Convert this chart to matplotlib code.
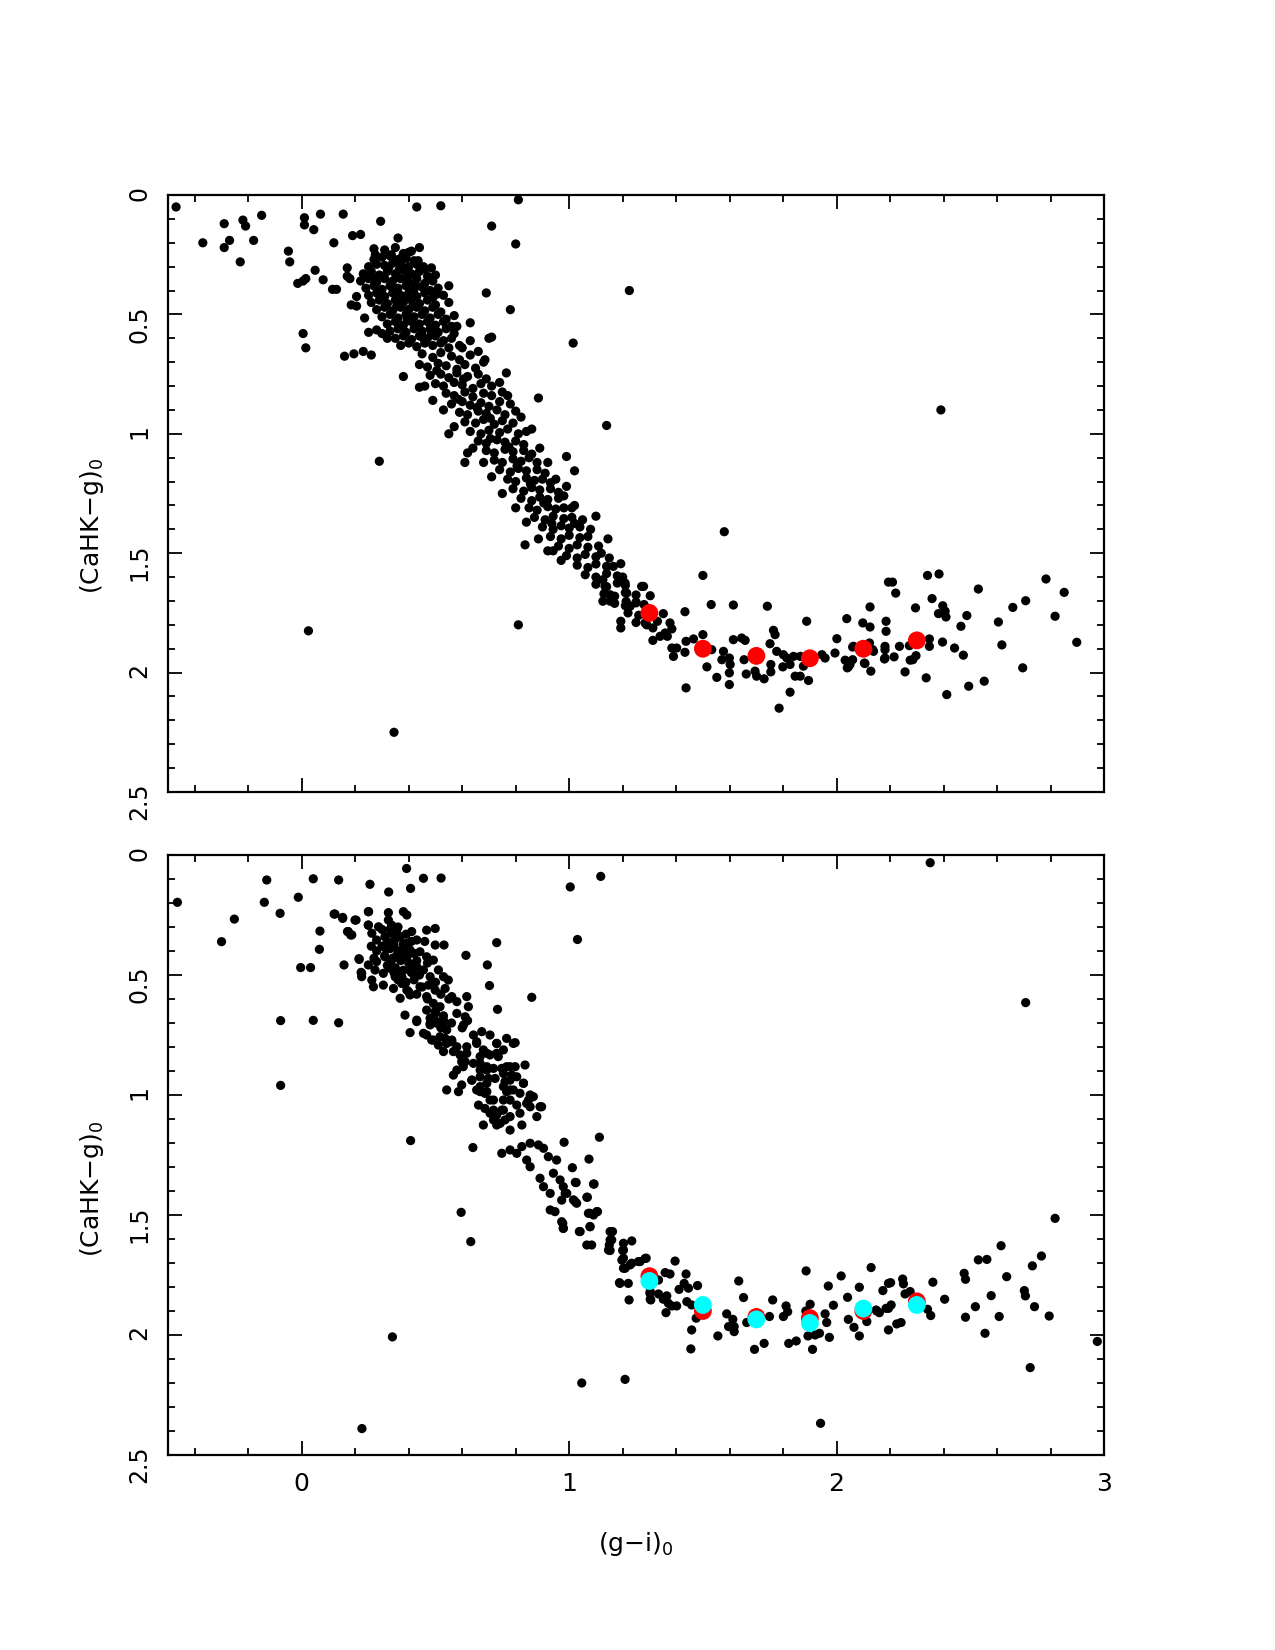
import numpy as np
import matplotlib
matplotlib.use('Agg')
import matplotlib.pyplot as plt
from matplotlib.ticker import MultipleLocator, FormatStrFormatter

# ---------------- top panel data : (g-i)_0 , (CaHK-g)_0 ----------------
top_core = [
    (0.31,0.23),(0.35,0.22),(0.38,0.245),(0.41,0.235),(0.33,0.255),
    (0.27,0.27),(0.30,0.26),(0.36,0.27),(0.39,0.265),(0.42,0.275),(0.34,0.285),
    (0.25,0.30),(0.28,0.29),(0.31,0.295),(0.37,0.29),(0.40,0.30),(0.43,0.29),(0.46,0.31),
    (0.23,0.33),(0.26,0.32),(0.29,0.335),(0.32,0.32),(0.35,0.33),(0.38,0.315),(0.41,0.33),(0.44,0.32),(0.47,0.34),(0.50,0.335),
    (0.22,0.36),(0.25,0.35),(0.28,0.365),(0.31,0.35),(0.34,0.36),(0.37,0.35),(0.40,0.365),(0.43,0.35),(0.46,0.37),(0.49,0.36),
    (0.24,0.39),(0.27,0.38),(0.30,0.395),(0.33,0.38),(0.36,0.39),(0.39,0.38),(0.42,0.395),(0.45,0.385),(0.48,0.40),(0.51,0.39),
    (0.25,0.42),(0.28,0.41),(0.31,0.425),(0.34,0.41),(0.37,0.42),(0.40,0.41),(0.43,0.425),(0.46,0.41),(0.49,0.43),(0.53,0.42),
    (0.26,0.45),(0.29,0.44),(0.32,0.455),(0.35,0.44),(0.38,0.45),(0.41,0.44),(0.44,0.455),(0.47,0.44),(0.50,0.46),(0.55,0.45),
    (0.28,0.48),(0.31,0.47),(0.34,0.485),(0.37,0.47),(0.40,0.48),(0.43,0.47),(0.46,0.485),(0.49,0.47),(0.52,0.49),
    (0.30,0.51),(0.33,0.50),(0.36,0.515),(0.39,0.50),(0.42,0.51),(0.45,0.50),(0.48,0.515),(0.51,0.50),(0.54,0.52),(0.57,0.505),
    (0.32,0.54),(0.35,0.53),(0.38,0.545),(0.41,0.53),(0.44,0.54),(0.47,0.53),(0.50,0.545),(0.53,0.53),(0.56,0.55),
    (0.33,0.57),(0.36,0.56),(0.39,0.575),(0.42,0.56),(0.45,0.57),(0.48,0.56),(0.51,0.575),(0.54,0.56),(0.57,0.58),
    (0.35,0.60),(0.38,0.59),(0.41,0.605),(0.44,0.59),(0.47,0.60),(0.50,0.59),(0.53,0.61),(0.56,0.60),
    (0.37,0.63),(0.40,0.62),(0.43,0.635),(0.46,0.62),(0.49,0.63),(0.52,0.62),(0.55,0.64),(0.59,0.63),
    (0.325,0.305),(0.355,0.345),(0.395,0.345),(0.345,0.395),(0.385,0.43),(0.355,0.465),(0.415,0.465),(0.395,0.52),
    (0.435,0.545),(0.455,0.6),(0.295,0.415),(0.265,0.345),(0.425,0.375),(0.365,0.31),(0.505,0.415),(0.485,0.58),
    (0.60,0.64),(0.63,0.61),(0.58,0.55),
]

top_band = [
    (0.45,0.665),(0.49,0.68),(0.52,0.66),(0.56,0.675),(0.59,0.69),(0.63,0.67),(0.66,0.655),
    (0.44,0.71),(0.47,0.72),(0.51,0.705),(0.54,0.715),(0.58,0.73),(0.61,0.71),(0.65,0.725),(0.68,0.70),
    (0.48,0.755),(0.52,0.75),(0.55,0.765),(0.58,0.745),(0.62,0.76),(0.66,0.75),(0.69,0.77),
    (0.50,0.79),(0.53,0.80),(0.57,0.785),(0.60,0.795),(0.64,0.81),(0.67,0.79),(0.71,0.80),(0.74,0.785),
    (0.54,0.83),(0.57,0.84),(0.61,0.825),(0.64,0.845),(0.68,0.83),(0.71,0.84),(0.75,0.825),
    (0.56,0.875),(0.60,0.865),(0.63,0.88),(0.67,0.87),(0.70,0.885),(0.74,0.865),(0.78,0.875),
    (0.59,0.91),(0.62,0.92),(0.66,0.905),(0.69,0.915),(0.73,0.90),(0.76,0.92),(0.80,0.905),
    (0.61,0.95),(0.65,0.955),(0.68,0.94),(0.72,0.96),(0.75,0.945),(0.79,0.955),
    (0.63,0.99),(0.67,1.00),(0.70,0.985),(0.74,0.995),(0.77,0.98),(0.81,1.00),(0.84,0.99),
    (0.66,1.03),(0.69,1.04),(0.73,1.025),(0.76,1.035),(0.80,1.03),(0.83,1.045),
    (0.69,1.07),(0.72,1.08),(0.76,1.065),(0.79,1.075),(0.83,1.07),(0.86,1.085),
    (0.72,1.11),(0.75,1.12),(0.79,1.105),(0.82,1.115),(0.85,1.10),(0.88,1.12),
    (0.74,1.15),(0.78,1.16),(0.81,1.145),(0.84,1.155),(0.88,1.15),(0.91,1.165),
    (0.77,1.19),(0.80,1.20),(0.84,1.185),(0.87,1.195),(0.90,1.19),(0.93,1.205),
    (0.79,1.23),(0.83,1.24),(0.86,1.225),(0.89,1.235),(0.93,1.23),(0.96,1.245),
    (0.82,1.27),(0.86,1.28),(0.89,1.265),(0.92,1.275),(0.96,1.27),
    (0.85,1.31),(0.88,1.32),(0.92,1.305),(0.95,1.315),(0.98,1.31),
    (0.87,1.35),(0.91,1.36),(0.94,1.345),(0.98,1.355),(1.01,1.35),
    (0.90,1.39),(0.94,1.40),(0.97,1.385),(1.00,1.395),(1.04,1.39),
    (0.93,1.43),(0.97,1.44),(1.00,1.425),(1.04,1.435),(1.07,1.43),
    (0.96,1.47),(1.00,1.48),(1.03,1.465),(1.07,1.475),(1.11,1.47),
    (0.99,1.51),(1.03,1.52),(1.06,1.505),(1.10,1.515),
    (1.03,1.55),(1.07,1.56),(1.10,1.545),(1.14,1.555),
    (1.06,1.59),(1.10,1.60),(1.14,1.585),(1.18,1.595),
    (1.10,1.63),(1.14,1.64),(1.18,1.625),(1.21,1.635),
    (1.13,1.67),(1.17,1.68),(1.21,1.665),(1.25,1.675),
    (1.17,1.71),(1.21,1.72),(1.25,1.705),(1.28,1.715),
    (1.22,1.75),(1.26,1.76),
    (1.25,1.79),(1.29,1.80),(1.33,1.785),
    (0.505,0.735),(0.605,0.77),(0.585,0.855),(0.655,0.89),(0.705,0.935),(0.705,1.02),(0.775,1.055),(0.805,1.135),
    (0.855,1.21),(0.905,1.29),(0.935,1.375),
    (0.46,0.80),(0.49,0.86),(0.53,0.90),(0.57,0.97),(0.64,1.06),(0.68,1.12),(0.71,1.18),(0.75,1.25),(0.80,1.31),
    (0.84,1.37),(0.77,0.84),(0.82,0.93),(0.86,0.98),(0.89,1.06),(0.92,1.12),(0.95,1.19),(0.99,1.22),(1.02,1.30),
    (1.05,1.36),(1.08,1.40),(1.12,1.50),(1.15,1.52),
]

top_tail = [
    (1.500,1.593),(1.433,1.745),(1.531,1.715),(1.614,1.717),(1.741,1.722),(1.888,1.785),(2.038,1.774),(2.125,1.725),(2.185,1.785),
    (1.193,1.544),(1.165,1.555),(1.126,1.611),(1.134,1.639),(1.153,1.674),(1.126,1.701),(1.153,1.701),(1.200,1.600),(1.209,1.625),
    (1.215,1.667),(1.213,1.702),(1.228,1.722),(1.250,1.708),(1.271,1.639),(1.278,1.639),(1.303,1.678),(1.193,1.785),(1.193,1.813),
    (1.284,1.792),(1.313,1.813),(1.313,1.865),(1.340,1.848),(1.352,1.753),(1.377,1.792),(1.384,1.817),(1.359,1.834),(1.367,1.848),
    (1.384,1.897),(1.402,1.897),(1.390,1.932),(1.437,1.869),(1.465,1.859),(1.433,1.915),(1.500,1.841),(1.533,1.904),(1.515,1.976),
    (1.437,2.064),(1.552,2.020),(1.577,1.911),(1.571,1.946),(1.599,1.939),(1.602,1.966),(1.599,2.001),(1.599,2.050),(1.614,1.862),
    (1.645,1.855),(1.658,1.865),(1.654,1.946),(1.662,2.006),(1.695,1.994),(1.701,2.015),(1.729,2.026),(1.751,1.879),(1.776,1.911),
    (1.754,1.966),(1.754,1.997),(1.764,1.823),(1.770,1.841),(1.801,1.925),(1.814,1.939),(1.839,1.932),(1.826,1.966),(1.799,1.976),
    (1.864,1.932),(1.876,1.973),(1.845,2.015),(1.864,2.015),(1.895,2.033),(1.826,2.082),(1.785,2.149),(1.945,1.925),(1.957,1.939),
    (1.994,1.918),(2.001,1.858),(2.032,1.948),(2.050,1.966),(2.040,1.980),(2.060,1.946),(2.063,1.890),(2.098,1.792),(2.125,1.809),
    (2.104,1.960),(2.128,1.994),(2.138,1.911),(2.185,1.827),(2.181,1.890),(2.181,1.939),(2.194,1.621),
    (2.340,1.593),(2.383,1.587),(2.209,1.621),(2.221,1.667),(2.357,1.690),(2.295,1.729),(2.397,1.720),(2.381,1.753),(2.406,1.743),
    (2.409,1.767),(2.530,1.650),(2.487,1.761),(2.465,1.806),(2.605,1.788),(2.659,1.727),(2.707,1.699),(2.783,1.608),(2.851,1.664),
    (2.817,1.764),(2.898,1.873),(2.618,1.884),(2.696,1.980),(2.552,2.036),(2.494,2.057),(2.412,2.092),(2.335,2.022),(2.256,1.997),
    (2.060,1.893),(2.044,1.976),(2.106,1.962),(2.123,1.876),(2.135,1.904),(2.181,1.904),(2.179,1.943),(2.215,1.934),(2.235,1.890),
    (2.272,1.887),(2.275,1.948),(2.285,1.946),(2.297,1.929),(2.347,1.859),(2.347,1.890),(2.396,1.872),(2.441,1.897),(2.474,1.927),
]

top_outliers = [
    (-0.47,0.05),(-0.37,0.20),(-0.29,0.12),(-0.29,0.22),(-0.27,0.19),(-0.23,0.28),(-0.22,0.105),(-0.21,0.13),(-0.18,0.19),
    (-0.15,0.085),(-0.05,0.235),(-0.045,0.28),(0.01,0.095),(0.01,0.125),(0.045,0.145),(0.07,0.08),(-0.015,0.37),(0.005,0.36),
    (0.015,0.35),(0.05,0.315),(0.08,0.355),(0.12,0.20),(0.115,0.395),(0.13,0.395),(0.155,0.08),(0.19,0.17),(0.22,0.165),
    (0.295,0.11),(0.36,0.18),(0.43,0.05),(0.52,0.045),(0.005,0.58),(0.015,0.64),(0.16,0.675),(0.195,0.665),(0.23,0.655),
    (0.26,0.67),(0.29,1.115),(0.44,0.22),(0.71,0.13),(0.80,0.205),(0.81,0.02),(0.69,0.41),(0.78,0.48),(1.225,0.40),
    (1.015,0.62),(1.14,0.965),(1.58,1.41),(0.81,1.80),(0.025,1.825),(0.345,2.25),(2.39,0.90),
    (0.38,0.76),(0.44,0.805),(0.55,1.0),(0.61,1.12),(0.62,1.08),(0.885,0.85),(0.765,0.745),(0.685,0.69),(0.63,0.535),
    (0.70,0.60),(0.71,0.595),(0.55,0.38),(0.485,0.305),(0.435,0.275),(0.455,0.30),(0.40,0.24),(0.375,0.26),(0.27,0.225),
    (0.275,0.25),(0.335,0.25),(0.17,0.305),(0.17,0.34),(0.18,0.35),(0.205,0.425),(0.185,0.46),(0.205,0.465),(0.235,0.515),
    (0.25,0.575),(0.28,0.565),(0.30,0.58),(0.32,0.60),
    (0.98,1.26),(1.01,1.31),(1.02,1.375),(0.97,1.53),(0.92,1.49),(0.94,1.49),(0.99,1.095),(1.02,1.155),(0.835,1.465),
    (0.885,1.44),(1.10,1.345),(1.145,1.44),
]

top_red_x = [1.3, 1.5, 1.7, 1.9, 2.1, 2.3]
top_red_y = [1.75, 1.90, 1.93, 1.94, 1.90, 1.865]

# ---------------- bottom panel data ----------------
bot_core = [
    (0.124,0.246),(0.153,0.264),(0.199,0.271),(0.249,0.236),(0.324,0.240),(0.380,0.236),(0.393,0.25),
    (0.174,0.319),(0.187,0.333),(0.249,0.292),(0.287,0.299),(0.324,0.271),(0.336,0.292),(0.355,0.313),
    (0.262,0.326),(0.280,0.354),(0.311,0.34),(0.336,0.326),(0.368,0.34),(0.393,0.368),(0.411,0.319),(0.430,0.354),
    (0.467,0.313),(0.499,0.306),(0.499,0.375),(0.532,0.375),
    (0.215,0.435),(0.249,0.458),(0.280,0.444),(0.311,0.424),(0.336,0.438),(0.361,0.41),(0.380,0.431),(0.405,0.396),
    (0.442,0.403),(0.467,0.424),(0.224,0.493),(0.262,0.521),(0.274,0.479),(0.305,0.493),(0.330,0.472),(0.349,0.507),
    (0.374,0.486),(0.405,0.479),(0.430,0.465),(0.455,0.479),(0.480,0.507),(0.511,0.479),(0.492,0.438),
    (0.268,0.549),(0.305,0.542),(0.343,0.556),(0.374,0.535),(0.393,0.563),(0.368,0.597),(0.405,0.583),(0.442,0.549),
    (0.474,0.542),(0.499,0.563),(0.467,0.59),(0.492,0.618),(0.530,0.507),(0.548,0.521),(0.536,0.556),
    (0.561,0.59),(0.580,0.611),(0.617,0.59),(0.623,0.632),(0.611,0.674),(0.467,0.646),(0.499,0.66),(0.517,0.632),
    (0.505,0.694),(0.530,0.688),(0.480,0.701),
    (0.30,0.31),(0.33,0.31),(0.36,0.30),(0.39,0.33),(0.32,0.36),(0.35,0.35),(0.38,0.37),(0.41,0.36),(0.30,0.38),
    (0.33,0.39),(0.36,0.40),(0.39,0.39),(0.42,0.41),(0.31,0.42),(0.34,0.43),(0.37,0.44),(0.40,0.45),(0.43,0.44),
    (0.32,0.46),(0.35,0.47),(0.38,0.48),(0.41,0.49),(0.44,0.50),(0.36,0.52),(0.39,0.53),(0.42,0.52),(0.45,0.55),
    (0.40,0.57),(0.43,0.58),(0.47,0.60),(0.26,0.38),(0.28,0.40),(0.27,0.43),(0.46,0.36),(0.47,0.45),(0.50,0.53),
    (0.52,0.58),(0.55,0.60),(0.50,0.65),(0.53,0.67),(0.56,0.70),(0.58,0.66),(0.60,0.72),(0.62,0.69),(0.48,0.68),(0.52,0.72),
    (0.345,0.375),(0.375,0.395),(0.355,0.42),(0.395,0.42),(0.345,0.49),(0.375,0.51),(0.42,0.47),(0.315,0.39),
]

bot_band = [
    (0.430,0.694),(0.480,0.708),(0.505,0.701),(0.530,0.715),(0.542,0.729),(0.467,0.750),(0.492,0.771),(0.511,0.792),
    (0.536,0.764),(0.561,0.778),(0.580,0.799),(0.605,0.708),(0.617,0.799),(0.642,0.750),(0.654,0.778),(0.673,0.736),
    (0.704,0.750),(0.729,0.785),(0.766,0.764),(0.798,0.782),(0.754,0.812),(0.729,0.826),(0.692,0.826),(0.667,0.840),
    (0.642,0.868),(0.617,0.826),(0.598,0.861),(0.580,0.896),(0.567,0.917),(0.542,0.979),(0.586,0.986),(0.598,0.958),
    (0.636,0.938),(0.667,0.896),(0.692,0.882),(0.717,0.889),(0.748,0.889),(0.779,0.882),(0.798,0.882),(0.835,0.875),
    (0.785,0.917),(0.760,0.944),(0.754,0.965),(0.779,0.979),(0.816,0.993),(0.829,0.951),(0.854,1.000),(0.897,1.049),
    (0.879,1.090),(0.854,1.049),(0.841,1.035),(0.804,1.042),(0.779,1.021),(0.754,1.021),(0.748,1.063),(0.729,1.083),
    (0.704,1.021),(0.692,0.986),(0.667,0.986),(0.661,1.042),(0.685,1.056),(0.704,1.076),(0.717,1.104),(0.742,1.118),
    (0.760,1.104),(0.779,1.146),(0.823,1.125),(0.679,1.125),(0.667,0.965),(0.698,0.931),
    (0.455,0.743),(0.486,0.771),(0.517,0.757),(0.542,0.785),(0.530,0.819),(0.561,0.771),(0.567,0.819),(0.592,0.833),
    (0.611,0.861),(0.654,0.785),(0.679,0.812),(0.729,0.785),(0.704,0.833),(0.735,0.84),(0.791,0.785),(0.667,0.868),
    (0.692,0.896),(0.766,0.882),(0.604,0.882),(0.636,0.938),(0.667,0.924),(0.692,0.951),(0.723,0.931),(0.754,0.91),
    (0.779,0.938),(0.804,0.924),(0.829,0.951),(0.654,0.979),(0.685,0.993),(0.717,1.021),(0.766,0.986),(0.791,0.979),
    (0.848,1.021),(0.866,1.007),(0.891,1.049),(0.717,1.063),(0.754,1.063),(0.779,1.09),(0.816,1.076),(0.729,1.125),
    (0.748,1.243),(0.779,1.229),(0.804,1.243),(0.823,1.215),(0.854,1.201),(0.885,1.208),(0.904,1.222),(0.922,1.257),
    (0.841,1.271),(0.854,1.299),(0.891,1.347),(0.904,1.382),(0.929,1.410),(0.941,1.326),(0.966,1.354),(0.978,1.382),
    (0.991,1.410),(0.972,1.438),(1.022,1.444),(0.929,1.479),(0.947,1.486),(0.972,1.528),(0.978,1.556),(1.041,1.569),
    (1.078,1.493),(1.103,1.486),(1.078,1.549),(1.066,1.625),(1.084,1.625),(1.153,1.569),(1.159,1.604),(1.147,1.646),
    (1.203,1.618),(1.234,1.608),(1.203,1.646),(1.197,1.688),(1.203,1.722),(1.228,1.708),(1.259,1.694),(1.284,1.681),
    (1.190,1.785),(1.221,1.785),(1.224,1.854),(1.302,1.826),(1.305,1.854),(0.953,1.271),(1.012,1.303),(1.023,1.364),
    (1.074,1.267),(1.091,1.371),(1.066,1.426),
]

bot_tail = [
    (1.026,1.365),(1.093,1.371),(0.985,1.41),(1.016,1.437),(1.028,1.451),(1.068,1.426),(1.072,1.493),(1.091,1.5),
    (1.106,1.486),(0.976,1.535),(0.978,1.555),(1.038,1.569),(1.078,1.548),(1.162,1.569),(1.153,1.604),(1.150,1.625),
    (1.153,1.648),(1.200,1.648),(1.203,1.68),(1.209,1.722),(1.234,1.701),(1.265,1.694),(1.288,1.68),(1.188,1.782),
    (1.396,1.692),(1.359,1.74),(1.377,1.746),(1.437,1.746),(1.334,1.771),(1.303,1.819),(1.334,1.829),(1.303,1.851),
    (1.352,1.851),(1.365,1.837),(1.371,1.868),(1.384,1.879),(1.402,1.879),(1.362,1.907),(1.411,1.81),(1.43,1.785),
    (1.446,1.805),(1.48,1.794),(1.44,1.861),(1.458,1.875),(1.475,1.93),(1.458,1.979),(1.455,2.058),(1.589,1.912),
    (1.612,1.935),(1.596,1.965),(1.617,1.965),(1.617,1.986),(1.556,2.004),(1.634,1.775),(1.652,1.844),(1.664,1.948),
    (1.693,2.06),(1.729,2.035),(1.749,1.923),(1.761,1.854),(1.801,1.923),(1.811,1.879),(1.817,1.903),(1.821,2.035),
    (1.849,2.025),(1.886,1.733),(1.901,1.872),(1.885,1.9),(1.893,2.004),(1.92,2.0),(1.936,1.993),(1.91,2.06),
    (1.957,1.912),(1.963,1.948),(1.973,2.01),(1.988,1.876),(1.969,1.796),(2.017,1.754),(2.041,1.843),(2.044,1.935),
    (2.065,1.968),(2.085,2.004),(2.085,1.801),(2.129,1.719),(2.173,1.815),(2.15,1.9),(2.113,1.944),(2.194,1.785),
    (2.194,1.889),(2.194,1.979),
    (2.148,1.896),(2.16,1.907),(2.185,1.889),(2.204,1.875),(2.225,1.954),(2.241,1.948),(2.202,1.782),(2.247,1.767),
    (2.25,1.787),(2.256,1.829),(2.275,1.819),(2.34,1.893),(2.352,1.919),(2.36,1.78),(2.404,1.851),(2.477,1.743),
    (2.482,1.768),(2.482,1.926),(2.519,1.882),(2.53,1.687),(2.562,1.685),(2.555,1.993),(2.578,1.836),(2.608,1.923),
    (2.615,1.628),(2.636,1.757),(2.702,1.815),(2.706,1.837),(2.732,1.712),(2.766,1.671),(2.74,1.882),(2.795,1.921),
]

bot_outliers = [
    (-0.465,0.197),(-0.30,0.361),(-0.252,0.267),(-0.131,0.104),(-0.14,0.197),(-0.081,0.243),(-0.013,0.176),(0.043,0.099),
    (0.138,0.104),(-0.004,0.469),(0.033,0.469),(0.068,0.317),(0.066,0.393),(0.121,0.246),(0.153,0.260),(0.171,0.319),
    (0.183,0.333),(0.203,0.271),(0.158,0.458),(0.214,0.432),(0.222,0.489),(0.224,0.507),(0.255,0.122),(0.325,0.154),
    (0.392,0.056),(0.407,0.139),(0.455,0.097),(0.521,0.096),(0.25,0.236),(0.249,0.292),(-0.079,0.69),(0.043,0.689),
    (0.138,0.699),(-0.079,0.96),(0.405,0.74),(0.386,0.667),(0.43,0.688),(0.614,0.418),(0.694,0.458),(0.702,0.544),
    (0.729,0.365),(0.86,0.593),(0.732,0.643),(0.407,1.19),(0.64,1.219),(0.596,1.489),(0.632,1.611),(0.339,2.008),
    (0.225,2.39),(1.047,2.20),(1.209,2.185),(1.94,2.368),(1.004,0.133),(1.031,0.352),(1.118,0.089),(2.35,0.032),
    (2.707,0.615),(2.724,2.136),(2.975,2.027),(2.817,1.514),(1.113,1.176),(0.981,1.197),
]

bot_red_x = [1.3, 1.5, 1.7, 1.9, 2.1, 2.3]
bot_red_y = [1.755, 1.90, 1.925, 1.93, 1.90, 1.86]
bot_cyan_x = [1.3, 1.5, 1.7, 1.9, 2.1, 2.3]
bot_cyan_y = [1.775, 1.875, 1.935, 1.95, 1.89, 1.875]

plt.rcParams['font.family'] = 'DejaVu Sans'
plt.rcParams['mathtext.fontset'] = 'dejavusans'

fig = plt.figure(figsize=(12.75, 16.5), dpi=100)
ax1 = fig.add_axes([0.1318, 0.52, 0.7341, 0.3618])
ax2 = fig.add_axes([0.1318, 0.1182, 0.7341, 0.3636])


def style(ax, xlabels):
    ax.set_xlim(-0.5, 3)
    ax.set_ylim(2.5, 0)
    ax.xaxis.set_major_locator(MultipleLocator(1))
    ax.xaxis.set_minor_locator(MultipleLocator(0.2))
    ax.yaxis.set_major_locator(MultipleLocator(0.5))
    ax.yaxis.set_minor_locator(MultipleLocator(0.1))
    ax.yaxis.set_major_formatter(FormatStrFormatter('%g'))
    ax.xaxis.set_major_formatter(FormatStrFormatter('%g'))
    ax.tick_params(which='both', direction='in', top=True, right=True, width=1.3, colors='k')
    ax.tick_params(which='major', length=10)
    ax.tick_params(which='minor', length=5)
    ax.tick_params(axis='y', labelsize=17, labelrotation=90, pad=12)
    ax.tick_params(axis='x', labelsize=18, pad=12, labelbottom=xlabels)
    for s in ax.spines.values():
        s.set_linewidth(1.6)


def pts(groups):
    arr = np.array([p for g in groups for p in g])
    return arr[:, 0], arr[:, 1]


tx, ty = pts([top_core, top_band, top_tail, top_outliers])
ax1.scatter(tx, ty, s=44, c='k', edgecolors='none')
ax1.scatter(top_red_x, top_red_y, s=165, c='red', edgecolors='none')
style(ax1, False)

bx, by = pts([bot_core, bot_band, bot_tail, bot_outliers])
ax2.scatter(bx, by, s=44, c='k', edgecolors='none')
ax2.scatter(bot_red_x, bot_red_y, s=165, c='red', edgecolors='none')
ax2.scatter(bot_cyan_x, bot_cyan_y, s=165, c='cyan', edgecolors='none')
style(ax2, True)

# axis labels placed like the original
fig.text(92 / 1275, 1 - 526 / 1650, '(CaHK\u2212g)$_0$', rotation=90, ha='center', va='center', fontsize=18)
fig.text(92 / 1275, 1 - 1189 / 1650, '(CaHK\u2212g)$_0$', rotation=90, ha='center', va='center', fontsize=18)
fig.text(636 / 1275, 1 - 1544 / 1650, '(g\u2212i)$_0$', ha='center', va='center', fontsize=18)

fig.savefig('out.png', dpi=100)
